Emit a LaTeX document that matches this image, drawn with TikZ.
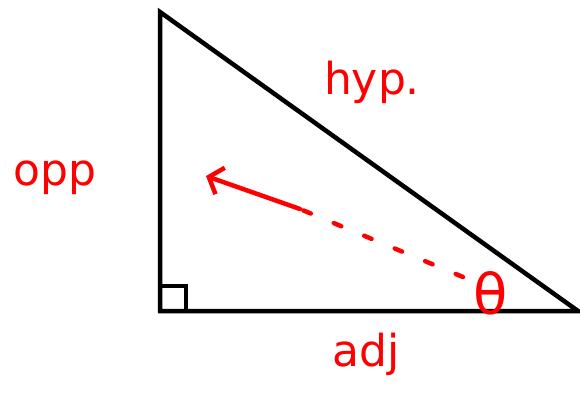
\documentclass[tikz,border=0pt]{standalone}
\usepackage{fontspec}
\setmainfont{DejaVu Sans}
\usetikzlibrary{arrows.meta}

\begin{document}
\begin{tikzpicture}[
  x=1pt, y=-1pt,
  side/.style={draw=black, line width=4.5pt, line join=miter},
  lbl/.style={text=red, inner sep=0pt, font=\fontsize{44}{50}\selectfont},
  sweep/.style={draw=red, line width=4.5pt, line cap=round},
]

%% ── Canvas ────────────────────────────────────────────
\useasboundingbox (0,0) rectangle (580,392);

%% ── Triangle corners ──────────────────────────────────
\coordinate (top)   at (160,12);
\coordinate (right) at (160,311);
\coordinate (tip)   at (578,311);

%% ── Sides ─────────────────────────────────────────────
\draw[side] (top) -- (right) -- (tip) -- cycle;
\draw[line width=4pt] (160,286) -| (186,311);

%% ── Labels ────────────────────────────────────────────
\node[lbl] (hyp)   at (372,82)  {hyp.};
\node[lbl] (opp)   at (55,178)  {opp};
\node[lbl] (adj)   at (366,354) {adj};
\node[lbl, font=\fontsize{56}{60}\selectfont] (theta) at (491,293) {θ};

%% ── Angle arrow ───────────────────────────────────────
\coordinate (start) at (463,277);
\coordinate (bend)  at (300,209);
\coordinate (head)  at (206,176);
\draw[sweep, dash pattern=on 8pt off 25pt] (start) -- (bend);
\draw[sweep, -{Straight Barb[length=12pt, width=28pt]}] (bend) -- (head);

\end{tikzpicture}
\end{document}
